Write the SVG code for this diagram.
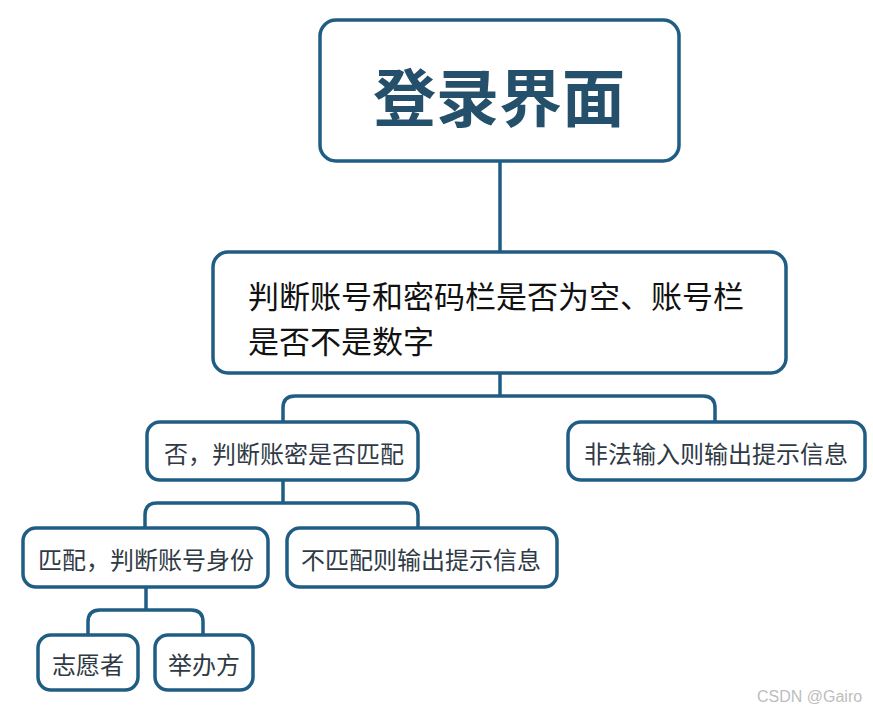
<svg xmlns="http://www.w3.org/2000/svg" width="873" height="713" viewBox="0 0 873 713">
<style>
.box{fill:#ffffff;stroke:#205d84;stroke-width:3.5}
.conn{fill:none;stroke:#205d84;stroke-width:3.5}
.t{font-family:"Noto Sans CJK SC","Noto Sans",sans-serif;fill:#2f3a44;font-size:24px;text-anchor:middle;dominant-baseline:central}
.main{font-family:"Noto Sans CJK SC","Noto Sans",sans-serif;fill:#111111;font-size:31px;dominant-baseline:central}
.title{font-family:"Noto Sans CJK SC","Noto Sans",sans-serif;fill:#24506b;font-size:63px;font-weight:bold;text-anchor:middle;dominant-baseline:central}
.wm{font-family:"Liberation Sans",Arial,sans-serif;fill:#bdbdbd;font-size:16px}
</style>
<rect width="873" height="713" fill="#ffffff"/>
<g id="connectors">
<path class="conn" d="M500,162 V252"/>
<path class="conn" d="M500,373 V396"/>
<path class="conn" d="M283,422 V408 Q283,396 295,396 H703 Q715,396 715,408 V422"/>
<path class="conn" d="M283,480 V503"/>
<path class="conn" d="M145,528 V515 Q145,503 157,503 H406 Q418,503 418,515 V528"/>
<path class="conn" d="M146,587 V610"/>
<path class="conn" d="M88,635 V622 Q88,610 100,610 H191 Q203,610 203,622 V635"/>
</g>
<g id="n-login">
<rect class="box" x="320" y="20" width="359" height="141" rx="16" stroke-width="4"/>
<text class="title" x="499" y="93">登录界面</text>
</g>
<g id="n-check">
<rect class="box" x="213" y="252" width="573" height="121" rx="15"/>
<text class="main" x="248" y="294">判断账号和密码栏是否为空、账号栏<tspan x="248" y="339">是否不是数字</tspan></text>
</g>
<g id="n-no">
<rect class="box" x="147" y="422" width="271" height="58" rx="13"/>
<text class="t" x="284" y="452">否，判断账密是否匹配</text>
</g>
<g id="n-illegal">
<rect class="box" x="568" y="422" width="297" height="58" rx="13"/>
<text class="t" x="716" y="452">非法输入则输出提示信息</text>
</g>
<g id="n-match">
<rect class="box" x="23" y="528" width="245" height="59" rx="13"/>
<text class="t" x="146" y="558">匹配，判断账号身份</text>
</g>
<g id="n-nomatch">
<rect class="box" x="287" y="528" width="270" height="59" rx="13"/>
<text class="t" x="421" y="558">不匹配则输出提示信息</text>
</g>
<g id="n-volunteer">
<rect class="box" x="38" y="635" width="100" height="55" rx="13"/>
<text class="t" x="88" y="663">志愿者</text>
</g>
<g id="n-organizer">
<rect class="box" x="155" y="635" width="98" height="55" rx="13"/>
<text class="t" x="204" y="663">举办方</text>
</g>
<text class="wm" x="757" y="702">CSDN @Gairo</text>
</svg>
